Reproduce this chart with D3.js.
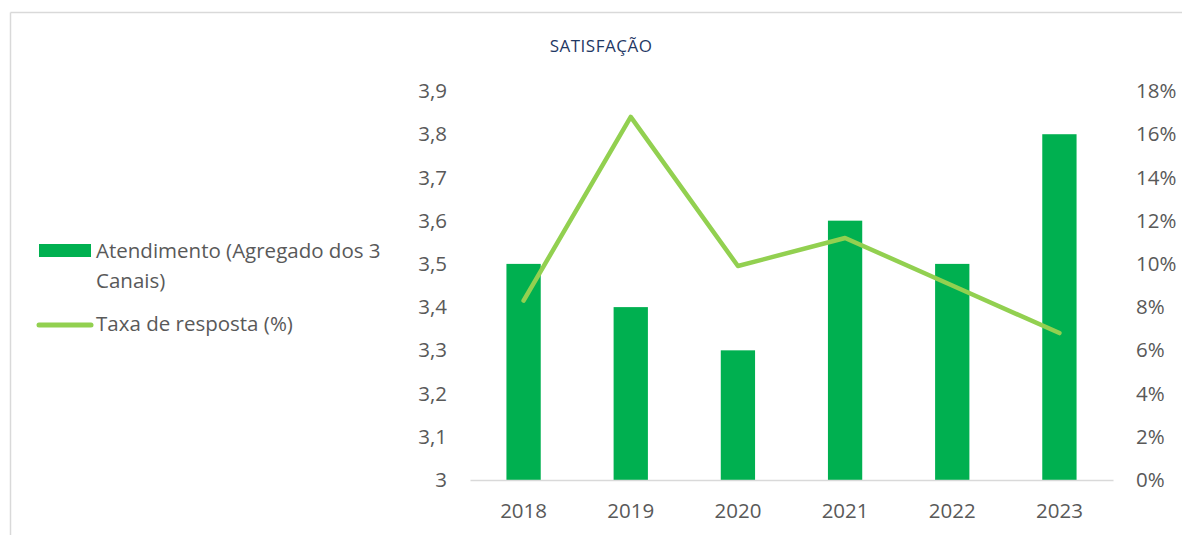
<!DOCTYPE html>
<html>
<head>
<meta charset="utf-8">
<script src="https://cdn.jsdelivr.net/npm/d3@7"></script>
<style>
  body { margin: 0; background: #fff; }
  text { font-family: "Open Sans", "Noto Sans", sans-serif; }
</style>
</head>
<body>
<div id="chart"></div>
<script>
// chart data
const years = ["2018", "2019", "2020", "2021", "2022", "2023"];
const atendimento = [3.5, 3.4, 3.3, 3.6, 3.5, 3.8];
const taxaResposta = [8.3, 16.8, 9.9, 11.2, 9.0, 6.8];
const leftTicks = [3, 3.1, 3.2, 3.3, 3.4, 3.5, 3.6, 3.7, 3.8, 3.9];
const rightTicks = [0, 2, 4, 6, 8, 10, 12, 14, 16, 18];

const W = 1182, H = 535;
const plot = {left: 470, right: 1113, top: 91, bottom: 480};

const svg = d3.select("#chart").append("svg")
    .attr("width", W)
    .attr("height", H);

// chart frame (only top and left edges visible)
svg.append("line").attr("x1", 10.5).attr("x2", W).attr("y1", 12.5).attr("y2", 12.5)
    .attr("stroke", "#d9d9d9").attr("stroke-width", 1.5);
svg.append("line").attr("x1", 10.5).attr("x2", 10.5).attr("y1", 12.5).attr("y2", H)
    .attr("stroke", "#d9d9d9").attr("stroke-width", 1.5);

svg.append("text")
    .attr("x", 601).attr("y", 52)
    .attr("text-anchor", "middle")
    .style("font-size", "17px")
    .style("letter-spacing", "0.5px")
    .style("fill", "#1f3864")
    .text("SATISFAÇÃO");

const x = d3.scaleBand()
    .domain(years)
    .range([plot.left, plot.right])
    .paddingInner(0.68)
    .paddingOuter(0.34);

const yL = d3.scaleLinear().domain([3, 3.9]).range([plot.bottom, plot.top]);
const yR = d3.scaleLinear().domain([0, 18]).range([plot.bottom, plot.top]);

const fmtL = d => d3.format(".1f")(d).replace(".", ",").replace(/,0$/, "");

// left axis
const axL = svg.append("g")
    .attr("transform", `translate(${plot.left - 23},0)`)
    .call(d3.axisLeft(yL).tickValues(leftTicks).tickFormat(fmtL).tickSize(0).tickPadding(0));
axL.select(".domain").remove();

// right axis
const axR = svg.append("g")
    .attr("transform", `translate(${plot.right + 23},0)`)
    .call(d3.axisRight(yR).tickValues(rightTicks).tickFormat(d => d + "%").tickSize(0).tickPadding(0));
axR.select(".domain").remove();

// bottom axis
const axB = svg.append("g")
    .attr("transform", `translate(0,${plot.bottom})`)
    .call(d3.axisBottom(x).tickSize(0).tickPadding(31));
axB.select(".domain").attr("stroke", "#d9d9d9").attr("stroke-width", 1.5);

svg.selectAll(".tick text")
    .style("font-size", "20.5px")
    .style("fill", "#595959")
    .attr("font-family", null);
axB.selectAll(".tick text").attr("dy", "0.35em");

// bars
svg.append("g").selectAll("rect")
    .data(years.map((y, i) => ({year: y, v: atendimento[i]})))
    .join("rect")
    .attr("x", d => x(d.year))
    .attr("width", x.bandwidth())
    .attr("y", d => yL(d.v))
    .attr("height", d => yL(3) - yL(d.v))
    .attr("fill", "#00b050");

// bottom axis line drawn over bar bases
axB.raise();

// line
const line = d3.line()
    .x((d, i) => x(years[i]) + x.bandwidth() / 2)
    .y(d => yR(d));

svg.append("path")
    .datum(taxaResposta)
    .attr("d", line)
    .attr("fill", "none")
    .attr("stroke", "#92d050")
    .attr("stroke-width", 4.5)
    .attr("stroke-linejoin", "round")
    .attr("stroke-linecap", "round");

// legend
const leg = svg.append("g");
leg.append("rect")
    .attr("x", 39).attr("y", 244).attr("width", 52).attr("height", 13)
    .attr("fill", "#00b050");
leg.append("text")
    .attr("x", 96).attr("y", 258)
    .style("font-size", "20.5px").style("fill", "#595959")
    .text("Atendimento (Agregado dos 3");
leg.append("text")
    .attr("x", 96).attr("y", 288)
    .style("font-size", "20.5px").style("fill", "#595959")
    .text("Canais)");
leg.append("line")
    .attr("x1", 39).attr("x2", 91).attr("y1", 325).attr("y2", 325)
    .attr("stroke", "#92d050").attr("stroke-width", 5).attr("stroke-linecap", "round");
leg.append("text")
    .attr("x", 96).attr("y", 331)
    .style("font-size", "20.5px").style("fill", "#595959")
    .text("Taxa de resposta (%)");
</script>
</body>
</html>
